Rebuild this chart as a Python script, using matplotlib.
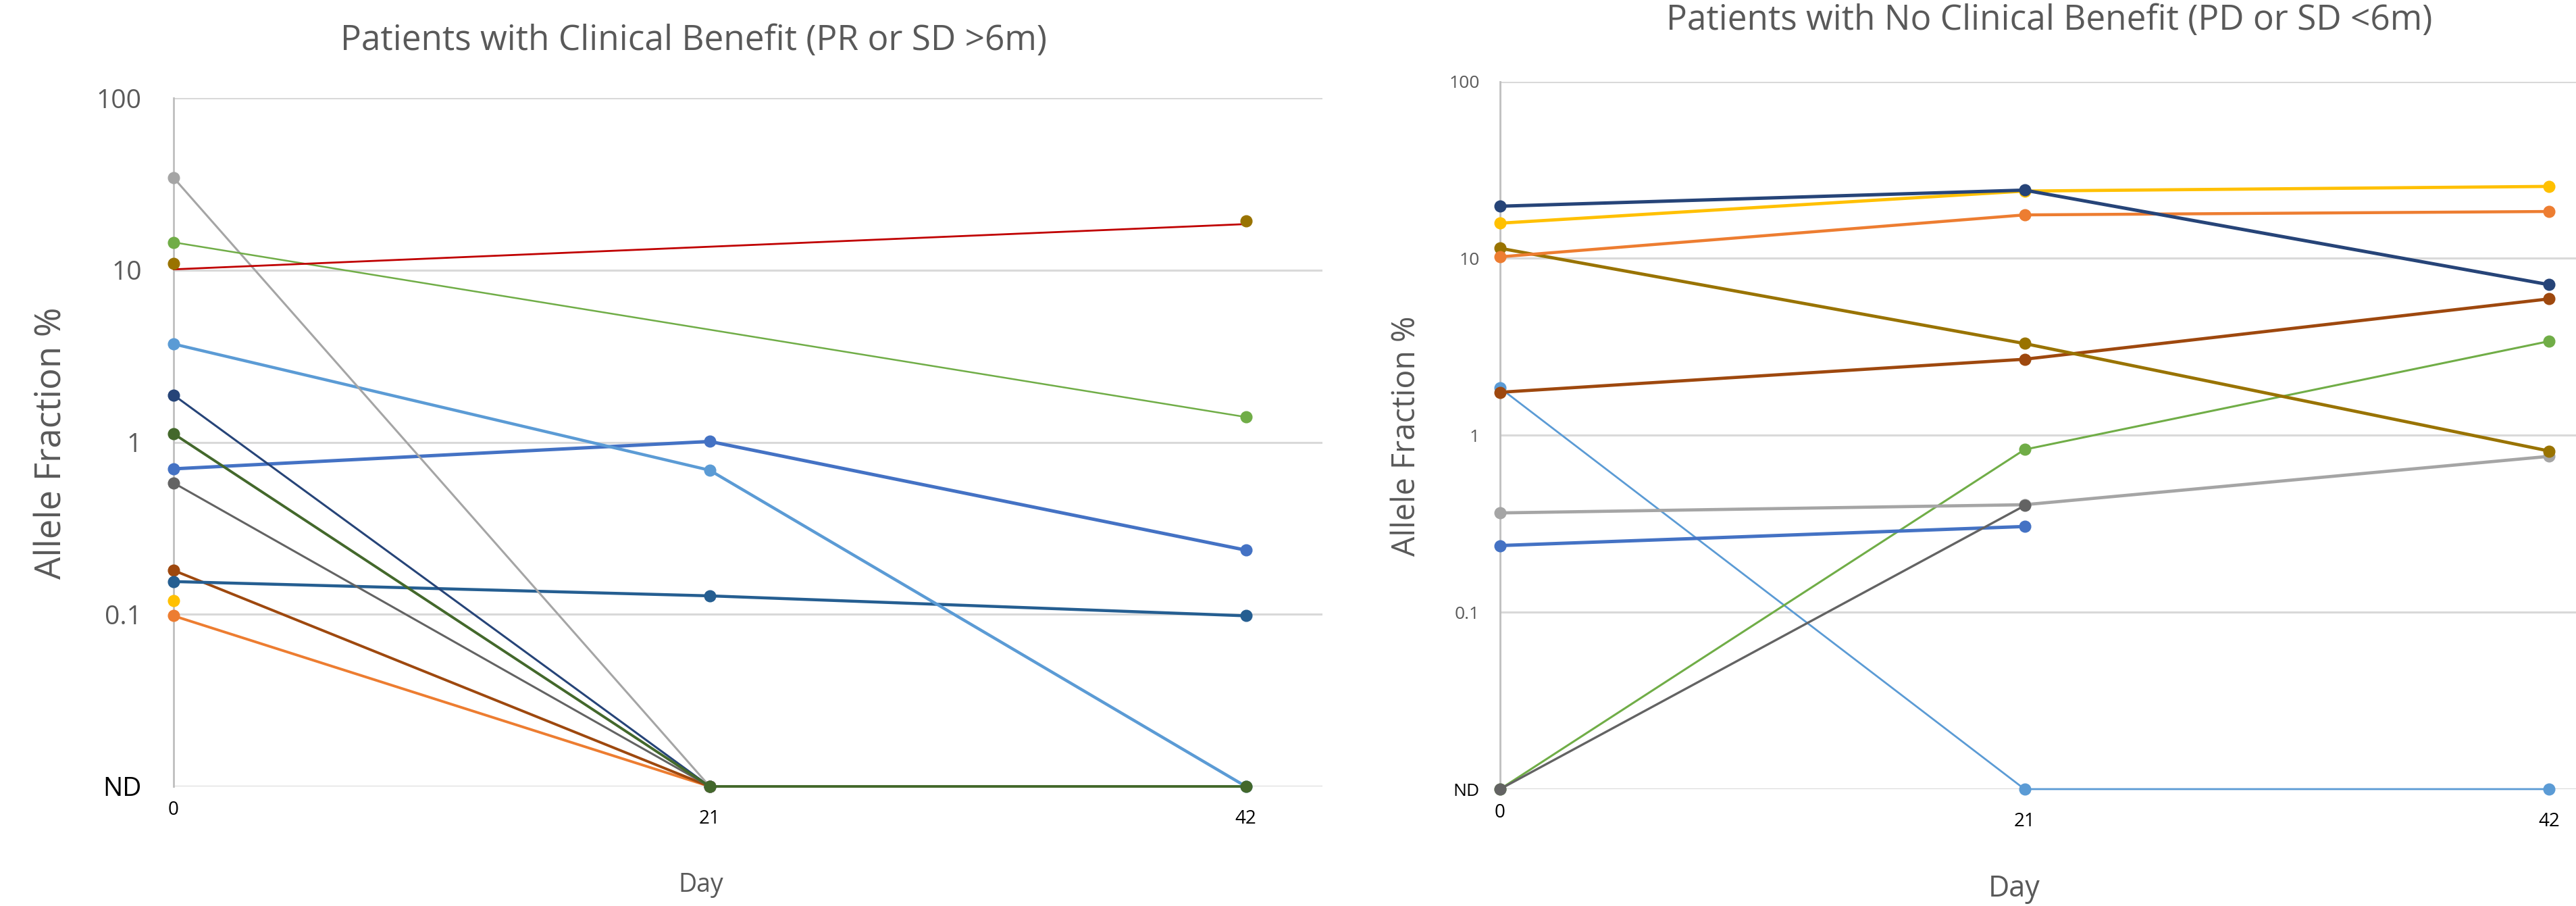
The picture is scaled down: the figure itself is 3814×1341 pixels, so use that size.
import matplotlib
matplotlib.use("Agg")
import matplotlib.pyplot as plt

plt.rcParams['font.family'] = ['Open Sans', 'DejaVu Sans']

# "not detected" is drawn one decade below 0.1
ND = 0.01

days = [0, 21, 42]
day_labels = ['0', '21', '42']
ytick_vals = [ND, 0.1, 1, 10, 100]
ytick_labels = ['ND', '0.1', '1', '10', '100']

# --- Patients with clinical benefit: allele fraction % per patient ---
cb_orange_days, cb_orange = [0, 21], [0.098, ND]
cb_gold_days, cb_gold = [0], [0.12]
cb_brown_days, cb_brown = [0, 21], [0.18, ND]
cb_steel_days, cb_steel = [0, 21, 42], [0.155, 0.128, 0.098]
cb_dgray_days, cb_dgray = [0, 21], [0.58, ND]
cb_blue_days, cb_blue = [0, 21, 42], [0.70, 1.01, 0.236]
cb_navy_days, cb_navy = [0, 21], [1.88, ND]
cb_lblue_days, cb_lblue = [0, 21, 42], [3.72, 0.687, ND]
cb_gray_days, cb_gray = [0, 21], [34.4, ND]
cb_green_days, cb_green = [0, 42], [14.5, 1.4]
cb_red_days, cb_red = [0, 42], [10.1, 18.5]
cb_olive_days, cb_olive = [0, 42], [10.9, 19.3]
cb_dgreen_days, cb_dgreen = [0, 21, 42], [1.12, ND, ND]

# --- Patients with no clinical benefit ---
ncb_navy_days, ncb_navy = [0, 21, 42], [19.7, 24.3, 7.1]
ncb_gold_days, ncb_gold = [0, 21, 42], [15.8, 24.0, 25.5]
ncb_orange_days, ncb_orange = [0, 21, 42], [10.2, 17.6, 18.4]
ncb_olive_days, ncb_olive = [0, 21, 42], [11.4, 3.3, 0.815]
ncb_brown_days, ncb_brown = [0, 21, 42], [1.75, 2.69, 5.9]
ncb_lblue_days, ncb_lblue = [0, 21, 42], [1.85, ND, ND]
ncb_green_days, ncb_green = [0, 21, 42], [ND, 0.83, 3.4]
ncb_gray_days, ncb_gray = [0, 21, 42], [0.364, 0.405, 0.76]
ncb_blue_days, ncb_blue = [0, 21], [0.238, 0.305]
ncb_dgray_days, ncb_dgray = [0, 21], [ND, 0.40]

# office palette
BLUE, ORANGE, GRAY, GOLD = '#4472C4', '#ED7D31', '#A5A5A5', '#FFC000'
LBLUE, GREEN, NAVY, BROWN = '#5B9BD5', '#70AD47', '#264478', '#9E480E'
DGRAY, OLIVE, STEEL, DGREEN = '#636363', '#997300', '#255E91', '#43682B'
RED = '#C00000'
TXT = '#595959'

W, H = 3814, 1341
fig = plt.figure(figsize=(W / 100, H / 100), dpi=100)


def px(x, y):
    return x / W, 1 - y / H


def line(ax, x, y, color, lw, marker=True):
    ax.plot(x, y, color=color, lw=lw, marker='o' if marker else None,
            ms=12, mec=color, mfc=color, clip_on=False, solid_capstyle='round', zorder=3)


def style(ax, xmax, tick_size, ypad, xtick_size):
    ax.set_yscale('log')
    ax.set_ylim(ND, 100)
    ax.set_xlim(0, xmax)
    ax.minorticks_off()
    ax.set_yticks(ytick_vals)
    ax.set_yticklabels(ytick_labels)
    ax.set_xticks([])
    for s in ['top', 'right', 'bottom']:
        ax.spines[s].set_visible(False)
    ax.spines['left'].set_color('#BFBFBF')
    ax.spines['left'].set_linewidth(2)
    ax.yaxis.grid(True, color='#D9D9D9', lw=2.2)
    ax.set_axisbelow(True)
    ax.tick_params(axis='y', length=0, pad=ypad, labelsize=tick_size, labelcolor=TXT)
    ax.get_yticklabels()[0].set_color('black')
    for d, lab in zip(days, day_labels):
        ax.annotate(lab, xy=(d, 0), xycoords=('data', 'axes fraction'),
                    xytext=(0, -35 if d == 0 else -48), textcoords='offset pixels',
                    ha='center', va='center', fontsize=xtick_size, color='black',
                    annotation_clip=False)


# left panel
ax1 = fig.add_axes([257 / W, 1 - 1164 / H, (1958 - 257) / W, (1164 - 145) / H])
style(ax1, 45, 28, 34, 20)
line(ax1, cb_orange_days, cb_orange, ORANGE, 2.8)
line(ax1, cb_gold_days, cb_gold, GOLD, 2)
line(ax1, cb_brown_days, cb_brown, BROWN, 2.8)
line(ax1, cb_steel_days, cb_steel, STEEL, 3.2)
line(ax1, cb_dgray_days, cb_dgray, DGRAY, 2.2)
line(ax1, cb_blue_days, cb_blue, BLUE, 3.6)
line(ax1, cb_navy_days, cb_navy, NAVY, 2.2)
line(ax1, cb_lblue_days, cb_lblue, LBLUE, 3.2)
line(ax1, cb_gray_days, cb_gray, GRAY, 2.2)
line(ax1, cb_green_days, cb_green, GREEN, 1.8)
line(ax1, cb_red_days, cb_red, RED, 2.0, marker=False)
ax1.plot(cb_olive_days, cb_olive, 'o', color=OLIVE, ms=12, clip_on=False, zorder=4)
line(ax1, cb_dgreen_days, cb_dgreen, DGREEN, 2.8)

# right panel
ax2 = fig.add_axes([2221 / W, 1 - 1168 / H, (W - 2221) / W, (1168 - 120.5) / H])
style(ax2, 42 * (W - 2221) / (3774 - 2221), 19, 22, 20)
line(ax2, ncb_lblue_days, ncb_lblue, LBLUE, 2.0)
line(ax2, ncb_green_days, ncb_green, GREEN, 2.2)
line(ax2, ncb_gray_days, ncb_gray, GRAY, 3.4)
line(ax2, ncb_blue_days, ncb_blue, BLUE, 3.6)
line(ax2, ncb_dgray_days, ncb_dgray, DGRAY, 2.4)
line(ax2, ncb_brown_days, ncb_brown, BROWN, 3.4)
line(ax2, ncb_olive_days, ncb_olive, OLIVE, 3.4)
line(ax2, ncb_orange_days, ncb_orange, ORANGE, 3.2)
line(ax2, ncb_gold_days, ncb_gold, GOLD, 3.4)
line(ax2, ncb_navy_days, ncb_navy, NAVY, 3.6)

# titles and axis labels
fig.text(*px(1027, 60), 'Patients with Clinical Benefit (PR or SD >6m)',
         ha='center', va='center', fontsize=37, color=TXT)
fig.text(*px(3034, 30), 'Patients with No Clinical Benefit (PD or SD <6m)',
         ha='center', va='center', fontsize=37, color=TXT)
fig.text(*px(77, 656), 'Allele Fraction %', rotation=90,
         ha='center', va='center', fontsize=38, color=TXT)
fig.text(*px(2082, 645), 'Allele Fraction %', rotation=90,
         ha='center', va='center', fontsize=33.5, color=TXT)
fig.text(*px(1038, 1310), 'Day', ha='center', va='center', fontsize=27, color=TXT)
fig.text(*px(2982, 1316), 'Day', ha='center', va='center', fontsize=31, color=TXT)

fig.savefig('out.png', dpi=100, facecolor='white')
